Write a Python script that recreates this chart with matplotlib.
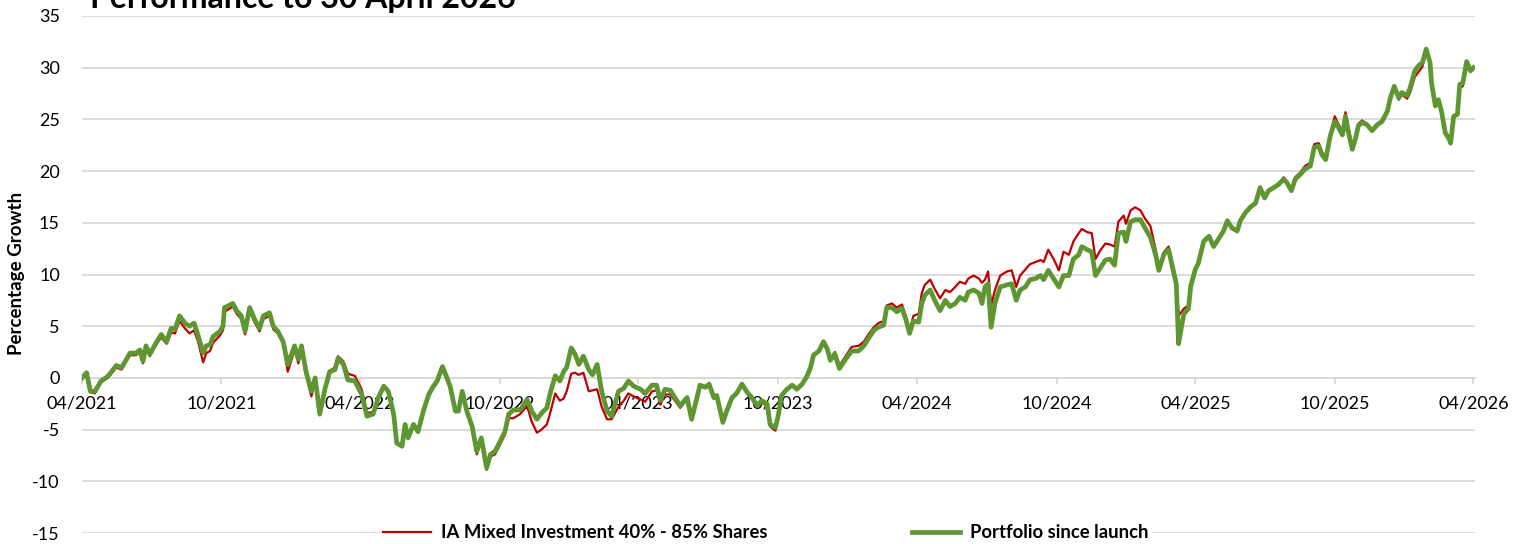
"""Performance to 30 April 2026: portfolio vs IA Mixed Investment 40-85% Shares."""

import matplotlib

matplotlib.use("Agg")
import matplotlib.dates as mdates
import matplotlib.pyplot as plt
import numpy as np

plt.rcParams["font.family"] = ["Lato", "DejaVu Sans"]
plt.rcParams["axes.unicode_minus"] = False

TITLE = "Performance to 30 April 2026"
LAUNCH = "2021-04-30"
RED_LABEL = "IA Mixed Investment 40% - 85% Shares"
GREEN_LABEL = "Portfolio since launch"

# days since launch
days = [
    0, 6, 11, 17, 25, 34, 45, 52, 63, 71, 76, 80, 84, 89, 98, 104, 111, 117, 122, 128,
    135, 141, 147, 152, 159, 163, 168, 172, 181, 185, 187, 198, 203, 209, 214, 220, 227, 233, 238, 246,
    251, 257, 264, 270, 279, 284, 288, 294, 301, 306, 312, 319, 325, 332, 336, 343, 349, 358, 367, 374,
    382, 389, 396, 402, 409, 413, 420, 424, 428, 435, 441, 448, 455, 461, 466, 473, 479, 483, 490, 494,
    499, 505, 512, 518, 524, 531, 536, 542, 549, 555, 560, 566, 575, 584, 590, 597, 603, 610, 614, 621,
    627, 632, 636, 642, 647, 652, 658, 665, 670, 676, 682, 689, 695, 704, 711, 717, 724, 733, 739, 748,
    754, 759, 765, 772, 778, 785, 794, 800, 805, 811, 818, 823, 829, 833, 841, 846, 853, 859, 866, 873,
    879, 886, 892, 899, 903, 910, 914, 918, 925, 932, 938, 945, 951, 956, 960, 967, 973, 978, 982, 988,
    994, 1002, 1010, 1019, 1026, 1032, 1039, 1045, 1052, 1056, 1063, 1069, 1076, 1081, 1086, 1091, 1098, 1102, 1106, 1113,
    1119, 1126, 1133, 1139, 1146, 1152, 1159, 1163, 1170, 1177, 1181, 1185, 1189, 1193, 1198, 1205, 1214, 1220, 1226, 1231,
    1238, 1244, 1251, 1258, 1262, 1268, 1275, 1282, 1288, 1295, 1301, 1308, 1312, 1319, 1325, 1330, 1336, 1343, 1349, 1355,
    1360, 1367, 1370, 1376, 1382, 1389, 1395, 1402, 1409, 1413, 1420, 1426, 1431, 1436, 1439, 1442, 1446, 1452, 1455, 1461,
    1465, 1472, 1479, 1485, 1492, 1498, 1503, 1509, 1516, 1520, 1527, 1533, 1540, 1546, 1552, 1557, 1564, 1570, 1577, 1581,
    1587, 1592, 1599, 1605, 1612, 1617, 1623, 1627, 1632, 1638, 1644, 1649, 1654, 1658, 1662, 1667, 1671, 1675, 1680, 1686,
    1693, 1700, 1706, 1713, 1717, 1722, 1728, 1732, 1739, 1743, 1749, 1754, 1759, 1764, 1769, 1771, 1776, 1780, 1784, 1789,
    1794, 1796, 1800, 1805, 1808, 1812, 1817, 1822, 1826,
]

portfolio = [
    0, 0.5, -1.3, -1.3, -0.3, 0.15, 1.2, 1.0, 2.4, 2.4, 2.7, 1.6, 3.1, 2.3, 3.5, 4.2, 3.5, 4.8, 4.7, 6.0,
    5.3, 5.0, 5.3, 4.2, 2.4, 3.1, 3.2, 4.0, 4.5, 5.0, 6.8, 7.2, 6.5, 6.0, 4.5, 6.8, 5.6, 4.8, 6.0, 6.3,
    5.0, 4.5, 3.5, 1.3, 3.1, 1.8, 3.1, 0.6, -1.3, 0, -3.5, -1.0, 0.6, 0.8, 1.9, 1.3, -0.2, -0.3, -1.6, -3.7,
    -3.5, -1.9, -0.8, -1.3, -3.5, -6.3, -6.6, -4.5, -5.8, -4.5, -5.2, -3.2, -1.6, -0.8, -0.3, 1.1, 0, -0.8, -3.2, -3.2,
    -1.3, -3.2, -4.7, -7.1, -5.8, -8.7, -7.4, -7.1, -6.1, -5.2, -3.5, -3.1, -3.1, -2.1, -3.2, -4.0, -3.4, -2.9, -1.6, 0.2,
    -0.3, 0.6, 1.0, 2.9, 2.3, 1.3, 2.1, 0.8, 0.3, 1.3, -1.3, -3.2, -3.7, -1.3, -1.0, -0.3, -0.8, -1.1, -1.5, -0.7,
    -0.7, -2.2, -1.1, -1.2, -1.9, -2.7, -1.9, -4.0, -2.5, -0.7, -0.9, -0.6, -1.9, -1.7, -4.3, -3.2, -1.9, -1.5, -0.6, -1.4,
    -1.9, -2.7, -2.2, -2.5, -4.5, -4.8, -3.5, -1.7, -1.1, -0.7, -1.1, -0.6, 0.1, 1.0, 2.2, 2.6, 3.5, 2.8, 1.7, 2.3,
    0.9, 1.8, 2.6, 2.6, 3.1, 3.8, 4.6, 4.9, 5.1, 6.8, 6.8, 6.4, 6.7, 5.7, 4.3, 5.5, 5.4, 7.2, 8.0, 8.5,
    7.5, 6.5, 7.5, 6.9, 7.2, 7.8, 7.5, 8.3, 8.5, 8.2, 7.2, 8.8, 9.1, 4.9, 7.2, 8.8, 9.0, 9.1, 7.5, 8.5,
    8.8, 9.5, 9.6, 9.9, 9.5, 10.4, 9.6, 8.8, 9.9, 9.9, 11.5, 11.9, 12.7, 12.4, 12.2, 9.9, 10.6, 11.4, 11.5, 10.9,
    14.0, 14.1, 13.2, 15.1, 15.3, 15.3, 14.5, 13.6, 11.9, 10.4, 12.0, 12.4, 10.7, 9.1, 3.3, 4.6, 6.2, 6.7, 8.9, 10.5,
    11.1, 13.2, 13.7, 12.7, 13.5, 14.2, 15.2, 14.5, 14.2, 15.2, 16.0, 16.5, 16.9, 18.4, 17.4, 18.1, 18.4, 18.7, 19.2, 18.9,
    18.1, 19.2, 19.7, 20.2, 20.5, 22.3, 22.4, 21.6, 21.1, 23.4, 24.8, 24.2, 23.5, 25.3, 23.7, 22.1, 23.1, 24.4, 24.7, 24.5,
    23.9, 24.5, 24.8, 25.8, 27.1, 28.2, 27.1, 27.6, 27.3, 28.1, 29.7, 30.2, 30.5, 31.8, 30.5, 28.5, 26.3, 26.9, 25.8, 23.7,
    23.1, 22.7, 25.3, 25.5, 28.4, 28.5, 30.6, 29.7, 30.0,
]

sector = [
    0, 0.4, -1.4, -1.5, -0.4, 0.0, 1.0, 0.8, 2.2, 2.2, 2.5, 1.4, 2.9, 2.1, 3.3, 3.9, 3.3, 4.4, 4.3, 5.5,
    4.8, 4.3, 4.6, 3.6, 1.5, 2.4, 2.6, 3.4, 4.1, 4.6, 6.4, 6.9, 6.2, 5.7, 4.2, 6.5, 5.3, 4.5, 5.7, 6.0,
    4.7, 4.3, 3.3, 0.6, 2.7, 1.4, 2.8, 0.3, -1.8, -0.2, -3.6, -1.0, 0.7, 1.0, 2.1, 1.6, 0.4, 0.2, -1.1, -3.4,
    -3.3, -1.7, -0.7, -1.2, -3.5, -6.4, -6.7, -4.6, -5.9, -4.6, -5.3, -3.4, -1.8, -1.0, -0.5, 0.9, -0.2, -1.0, -3.3, -3.3,
    -1.5, -3.4, -4.9, -7.4, -6.1, -8.9, -7.6, -7.4, -6.4, -5.5, -3.9, -3.9, -3.5, -2.7, -4.2, -5.3, -5.0, -4.5, -3.5, -1.5,
    -2.2, -2.0, -1.3, 0.4, 0.5, 0.3, 0.5, -1.3, -1.2, -1.1, -2.8, -4.0, -4.0, -2.8, -2.2, -1.5, -1.8, -2.1, -2.3, -1.3,
    -1.2, -2.6, -1.6, -1.6, -2.2, -2.9, -2.1, -4.1, -2.6, -0.8, -1.0, -0.7, -2.0, -1.8, -4.4, -3.3, -2.0, -1.6, -0.7, -1.5,
    -2.0, -2.8, -2.4, -2.7, -4.7, -5.1, -3.7, -1.8, -1.2, -0.8, -1.0, -0.5, 0.0, 0.9, 2.2, 2.7, 3.5, 2.9, 1.9, 2.5,
    1.2, 2.1, 3.0, 3.1, 3.5, 4.2, 4.9, 5.3, 5.5, 7.0, 7.2, 6.8, 7.1, 6.0, 4.6, 6.0, 6.2, 8.2, 9.0, 9.5,
    8.6, 7.7, 8.5, 8.3, 8.8, 9.3, 9.1, 9.6, 9.9, 9.6, 9.2, 9.5, 10.3, 7.0, 8.5, 9.9, 10.3, 10.4, 8.8, 9.9,
    10.5, 11.0, 11.2, 11.4, 11.2, 12.4, 11.5, 10.4, 12.2, 11.9, 13.2, 14.0, 14.4, 14.1, 14.0, 11.5, 12.3, 13.0, 12.9, 12.7,
    15.1, 15.7, 14.9, 16.2, 16.5, 16.2, 15.4, 14.7, 12.4, 10.6, 12.2, 12.7, 11.1, 9.5, 6.0, 6.3, 6.7, 7.0, 9.0, 10.6,
    11.2, 13.3, 13.8, 12.8, 13.6, 14.3, 15.3, 14.6, 14.3, 15.3, 16.1, 16.6, 17.0, 18.5, 17.6, 18.2, 18.5, 18.8, 19.4, 19.0,
    18.2, 19.4, 19.9, 20.5, 20.8, 22.6, 22.7, 21.9, 21.3, 23.6, 25.3, 24.5, 23.9, 25.7, 24.2, 22.4, 23.3, 24.6, 24.9, 24.6,
    24.0, 24.6, 24.9, 25.8, 27.0, 28.0, 26.9, 27.4, 27.0, 27.6, 29.1, 29.6, 30.1, 31.6, 30.3, 28.4, 26.2, 26.8, 25.7, 23.6,
    23.0, 22.6, 25.2, 25.4, 28.1, 28.2, 30.4, 29.6, 30.0,
]

RED = "#C00000"
GREEN = "#5E9732"
GRID = "#D9D9D9"

W, H = 1521, 544
fig = plt.figure(figsize=(W / 100, H / 100), dpi=100)
ax = fig.add_axes([82 / W, 1 - 533 / H, 1393 / W, 517 / H])

dates = np.datetime64(LAUNCH) + np.array(days).astype("timedelta64[D]")
ax.plot(dates, sector, color=RED, lw=1.6, label=RED_LABEL, zorder=3)
ax.plot(dates, portfolio, color=GREEN, lw=3.4, label=GREEN_LABEL, zorder=4)

ax.set_ylim(-15, 35)
ax.set_yticks(range(-15, 36, 5))
ax.set_xlim(np.datetime64(LAUNCH), np.datetime64(LAUNCH) + np.timedelta64(1828, "D"))
ax.xaxis.set_major_locator(mdates.MonthLocator(bymonth=(4, 10), bymonthday=30))
ax.xaxis.set_major_formatter(mdates.DateFormatter("%m/%Y"))

ax.set_axisbelow(True)
ax.grid(axis="y", color=GRID, lw=1.3)
for s in ("top", "right", "left"):
    ax.spines[s].set_visible(False)
ax.spines["bottom"].set_position(("data", 0))
ax.spines["bottom"].set_color(GRID)
ax.spines["bottom"].set_linewidth(1.3)
ax.tick_params(axis="x", length=4, width=1.3, color=GRID, pad=9, labelsize=13)
ax.tick_params(axis="y", length=0, pad=16, labelsize=13)

ax.set_ylabel("Percentage Growth", fontsize=13.5, fontweight="bold")
ax.yaxis.set_label_coords(-0.041, 0.503)

fig.text(90 / W, 1 - 8 / H, TITLE, fontsize=23, fontweight="bold", va="baseline")

leg = ax.legend(loc="center", bbox_to_anchor=((766 - 82) / 1393, 0.0), ncol=2,
                frameon=True, facecolor="white", edgecolor="none", framealpha=1,
                prop={"weight": "bold", "size": 13.3}, handlelength=2.6, handletextpad=0.55,
                columnspacing=7.8, borderpad=0.2)
leg.set_zorder(5)

fig.savefig("out.png", dpi=100, facecolor="white")
